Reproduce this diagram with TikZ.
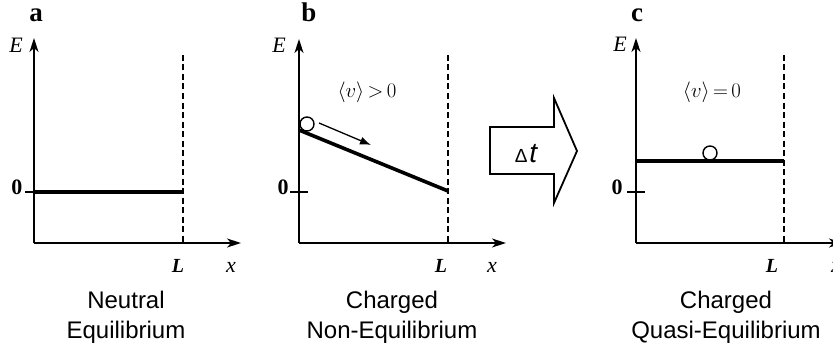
\documentclass[tikz,border=0pt]{standalone}
\usepackage{fontspec}
\setmainfont{Liberation Serif}
\setsansfont{Liberation Sans}
\usetikzlibrary{arrows.meta}
\begin{document}
\begin{tikzpicture}[x=1pt,y=-1pt,
  axisln/.style={line width=1.3pt,-{Stealth[length=14pt,width=9pt,inset=4pt]}},
  levelln/.style={line width=3.6pt},
  wallln/.style={line width=1.3pt,dash pattern=on 6pt off 3.5pt},
  tickln/.style={line width=1.3pt},
  ballnode/.style={circle,draw,line width=1.4pt,fill=white,minimum size=14pt,inner sep=0pt},
  panellab/.style={font=\fontsize{27}{27}\selectfont\bfseries,anchor=base,inner sep=0pt},
  elab/.style={font=\fontsize{22}{22}\selectfont\itshape,anchor=base,inner sep=0pt},
  llab/.style={font=\fontsize{20}{20}\selectfont\bfseries\itshape,anchor=base,inner sep=0pt},
  zlab/.style={font=\fontsize{22}{22}\selectfont\bfseries,anchor=mid,inner sep=0pt},
  captxt/.style={font=\fontsize{24}{30}\selectfont\sffamily,align=center,anchor=base,inner sep=0pt},
  vlab/.style={font=\fontsize{22}{22}\selectfont,anchor=base,inner sep=0pt}]
\useasboundingbox (0,0) rectangle (833,345);

% ---------- panel a ----------
\coordinate (aO) at (34,243);
\coordinate (aY) at (34,38);
\coordinate (aX) at (241,243);
\coordinate (aWt) at (183,55);
\coordinate (aWb) at (183,243);
\coordinate (aL0) at (34,192);
\coordinate (aL1) at (183,192);
\coordinate (aT0) at (25,192);
\draw[axisln] (aO) -- (aY);
\draw[axisln] (aO) -- (aX);
\draw[wallln] (aWt) -- (aWb);
\draw[tickln] (aT0) -- (aL0);
\draw[levelln] (aL0) -- (aL1);
\node[panellab] (alab) at (36,22) {a};
\node[elab] (aE) at (16,53) {E};
\node[zlab] (a0) at (17,192) {0};
\node[llab] (aL) at (178,272) {L};
\node[elab] (ax) at (231,272) {x};
\node[captxt] (acap) at (126,338) {Neutral\\Equilibrium};

% ---------- panel b ----------
\coordinate (bO) at (299,243);
\coordinate (bY) at (299,39);
\coordinate (bX) at (506,243);
\coordinate (bWt) at (448,55);
\coordinate (bWb) at (448,243);
\coordinate (bL0) at (299,130);
\coordinate (bL1) at (448,191);
\coordinate (bT0) at (290,192);
\coordinate (bT1) at (308,192);
\coordinate (bA0) at (319,123);
\coordinate (bA1) at (371,145);
\draw[axisln] (bO) -- (bY);
\draw[axisln] (bO) -- (bX);
\draw[wallln] (bWt) -- (bWb);
\draw[tickln] (bT0) -- (bT1);
\draw[levelln] (bL0) -- (bL1);
\node[ballnode] (bball) at (307,124) {};
\draw[line width=1.3pt,-{Latex[length=11pt,width=8pt]}] (bA0) -- (bA1);
\node[panellab] (blab) at (309,22) {b};
\node[elab] (bE) at (279,53) {E};
\node[zlab] (b0) at (283,192) {0};
\node[llab] (bL) at (441,272) {L};
\node[elab] (bx) at (492,272) {x};
\node[vlab] (bv) at (367,98) {$\langle v\rangle\,{>}\,0$};
\node[captxt] (bcap) at (392,338) {Charged\\Non-Equilibrium};

% ---------- big arrow ----------
\coordinate (g1) at (490,127);
\coordinate (g2) at (554,127);
\coordinate (g3) at (554,98);
\coordinate (g4) at (577,151);
\coordinate (g5) at (554,203);
\coordinate (g6) at (554,174);
\coordinate (g7) at (490,174);
\draw[line width=1.8pt,line join=miter] (g1) -- (g2) -- (g3) -- (g4) -- (g5) -- (g6) -- (g7) -- cycle;
\node[inner sep=0pt,anchor=base] (dt) at (526,162) {\sffamily{\fontsize{19}{19}\selectfont Δ}\,{\fontsize{28}{28}\selectfont\itshape t}};

% ---------- panel c ----------
\coordinate (cO) at (636,243);
\coordinate (cY) at (636,38);
\coordinate (cX) at (843,243);
\coordinate (cWt) at (784,55);
\coordinate (cWb) at (784,243);
\coordinate (cL0) at (636,161);
\coordinate (cL1) at (784,161);
\coordinate (cT0) at (627,192);
\coordinate (cT1) at (645,192);
\draw[axisln] (cO) -- (cY);
\draw[axisln] (cO) -- (cX);
\draw[wallln] (cWt) -- (cWb);
\draw[tickln] (cT0) -- (cT1);
\draw[levelln] (cL0) -- (cL1);
\node[ballnode] (cball) at (710,153) {};
\node[panellab] (clab) at (637,22) {c};
\node[elab] (cE) at (620,52) {E};
\node[zlab] (c0) at (617,192) {0};
\node[llab] (cL) at (772,272) {L};
\node[elab] (cx) at (836,272) {x};
\node[vlab] (cv) at (712,98) {$\langle v\rangle\,{=}\,0$};
\node[captxt] (ccap) at (726,338) {Charged\\Quasi-Equilibrium};
\end{tikzpicture}
\end{document}
